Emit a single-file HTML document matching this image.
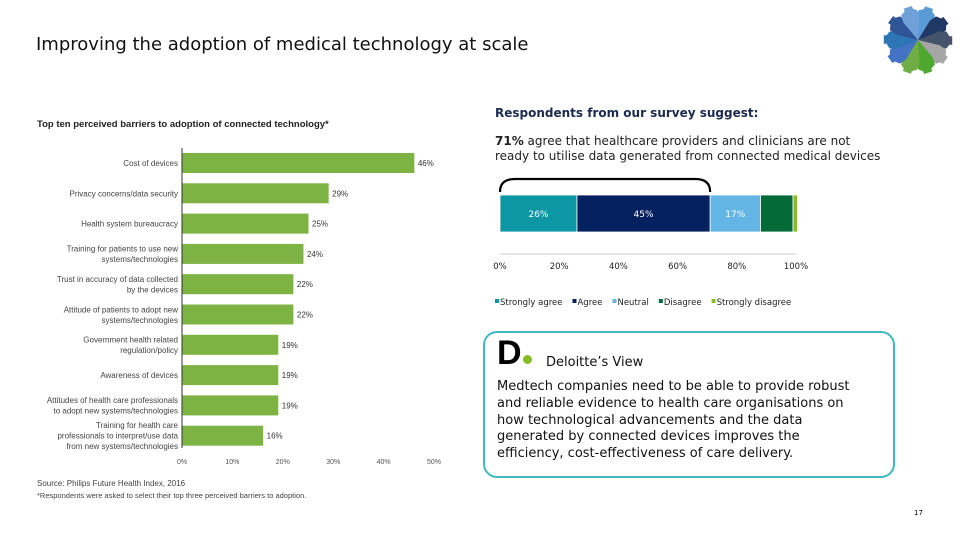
<!DOCTYPE html>
<html><head><meta charset="utf-8"><style>
body{margin:0;width:960px;height:540px;background:#fff;position:relative;overflow:hidden;font-family:"DejaVu Sans","Liberation Sans",sans-serif;}
.a{position:absolute;}
</style></head><body>
<div class="a" style="left:36px;top:34px;font-size:18px;color:#111;">Improving the adoption of medical technology at scale</div>
<svg class="a" style="left:878px;top:2px" width="80" height="76" id="logo"></svg>
<svg class="a" style="left:0;top:0" width="470" height="510" id="c1"></svg>
<div class="a" style="left:495px;top:106px;font-size:12px;font-weight:bold;color:#1a2a50;">Respondents from our survey suggest:</div>
<div class="a" style="left:495px;top:134px;font-size:12px;line-height:15px;color:#222;"><b>71%</b> agree that healthcare providers and clinicians are not<br>ready to utilise data generated from connected medical devices</div>
<svg class="a" style="left:480px;top:160px" width="360" height="160" id="c2"></svg>
<div class="a" style="left:483px;top:331px;width:408px;height:143px;border:2.5px solid #3fb8c2;border-radius:14px;"></div>
<div class="a" style="left:497px;top:336px;font-size:34px;font-weight:bold;font-family:'Liberation Sans',sans-serif;color:#000;line-height:34px;">D<span style="display:inline-block;width:9px;height:9px;border-radius:50%;background:#86bc25;margin-left:1px"></span></div>
<div class="a" style="left:546px;top:355px;font-size:13px;color:#111;">Deloitte’s View</div>
<div class="a" style="left:497px;top:379px;white-space:nowrap;font-size:13px;line-height:16.8px;color:#111;">Medtech companies need to be able to provide robust<br>and reliable evidence to health care organisations on<br>how technological advancements and the data<br>generated by connected devices improves the<br>efficiency, cost-effectiveness of care delivery.</div>
<div class="a" style="left:914px;top:509px;font-size:7px;">17</div>
<script>
const NS="http://www.w3.org/2000/svg";
function mk(p,t,a,txt){const e=document.createElementNS(NS,t);for(const k in a)e.setAttribute(k,a[k]);if(txt!=null)e.textContent=txt;p.appendChild(e);return e;}
// Chart 1
const categories=[["Cost of devices"],["Privacy concerns/data security"],["Health system bureaucracy"],["Training for patients to use new","systems/technologies"],["Trust in accuracy of data collected","by the devices"],["Attitude of patients to adopt new","systems/technologies"],["Government health related","regulation/policy"],["Awareness of devices"],["Attitudes of health care professionals","to adopt new systems/technologies"],["Training for health care","professionals to interpret/use data","from new systems/technologies"]];
const values=[46,29,25,24,22,22,19,19,19,16];
const xTicks=[0,10,20,30,40,50];
const c1=document.getElementById('c1');
const x0=182,pxPer=5.04,y0=153,step=30.3,bh=20;
const X=v=>x0+v*pxPer, Y=i=>y0+i*step;
let t=mk(c1,'text',{x:37,y:127,'font-size':9.5,'font-weight':'bold',fill:'#222','font-family':'Liberation Sans,sans-serif'},'Top ten perceived barriers to adoption of connected technology*');

let ax=mk(c1,'line',{x1:x0,y1:148,x2:x0,y2:448,stroke:'#333','stroke-width':1});

values.forEach((v,i)=>{
 const r=mk(c1,'rect',{x:x0+0.5,y:Y(i),width:X(v)-x0,height:bh,fill:'#7db343'});
 
 const l=mk(c1,'text',{x:X(v)+4,y:Y(i)+bh/2+3,'font-size':8,fill:'#333','font-family':'Liberation Sans,sans-serif'},v+'%');
 
 const lines=categories[i],n=lines.length;
 lines.forEach((s,j)=>{const c=mk(c1,'text',{x:178,y:Y(i)+bh/2+3+(j-(n-1)/2)*10.5,'font-size':8,fill:'#444','text-anchor':'end','font-family':'Liberation Sans,sans-serif'},s);
  });
});
xTicks.forEach(v=>{const tk=mk(c1,'text',{x:X(v),y:464,'font-size':7,fill:'#555','text-anchor':'middle','font-family':'Liberation Sans,sans-serif'},v+'%');
 });
let s1=mk(c1,'text',{x:37,y:486,'font-size':8,fill:'#444','font-family':'Liberation Sans,sans-serif'},'Source: Philips Future Health Index, 2016');

let s2=mk(c1,'text',{x:37,y:498,'font-size':7.5,fill:'#444','font-family':'Liberation Sans,sans-serif'},'*Respondents were asked to select their top three perceived barriers to adoption.');

// Chart 2
const segNames=["Strongly agree","Agree","Neutral","Disagree","Strongly disagree"];
const segValues=[26,45,17,11,1.5];
const segLabels=["26%","45%","17%","",""];
const segColors=["#0d97a5","#06215f","#62b5e5","#046a38","#86bc25"];
const pTicks=[0,20,40,60,80,100];
const c2=document.getElementById('c2');
const px0=20,pw=2.96,by=35,bH=37;
const PX=v=>px0+v*pw;
let cum=0;
segValues.forEach((v,i)=>{
 const r=mk(c2,'rect',{x:PX(cum),y:by,width:v*pw,height:bH,fill:segColors[i],stroke:'#fff','stroke-width':0.8});
 
 if(segLabels[i]){const l=mk(c2,'text',{x:PX(cum+v/2),y:by+22,'font-size':9,fill:'#fff','text-anchor':'middle'},segLabels[i]);
  }
 cum+=v;
});
let br=mk(c2,'path',{d:`M${PX(0)} ${by-3} Q${PX(0)} ${by-16} ${PX(5)} ${by-16} L${PX(66)} ${by-16} Q${PX(71)} ${by-16} ${PX(71)} ${by-3}`,fill:'none',stroke:'#000','stroke-width':2.2});

let bl=mk(c2,'line',{x1:PX(0),x2:PX(100),y1:94,y2:94,stroke:'#ccc'});

pTicks.forEach(v=>{const tk=mk(c2,'text',{x:PX(v),y:109,'font-size':8.5,fill:'#222','text-anchor':'middle'},v+'%');
 });
let lx=15;
segNames.forEach((n,i)=>{
 const g=mk(c2,'g',{});
 mk(g,'rect',{x:lx,y:139,width:4,height:4,fill:segColors[i]});
 const tx=mk(g,'text',{x:lx+5,y:145,'font-size':8.5,fill:'#222'},n);
 lx+=5+tx.getComputedTextLength()+10;
});
// logo
const lg=document.getElementById('logo');
const lc=["#5b9bd5","#1f3864","#44546a","#a5a5a5","#4ea72e","#70ad47","#4472c4","#2e75b6","#2f5597","#6fa0d8"];
for(let i=0;i<10;i++){const a=i*36-72;
 const p=mk(lg,'path',{d:'M0 0 L22 -9 L30 -9 L33 -4 L36 -4 L36 5 L33 5 L30 9 L22 9 Z',fill:lc[i],transform:`translate(40,38) rotate(${a}) scale(0.95)`});}
</script>
</body></html>
